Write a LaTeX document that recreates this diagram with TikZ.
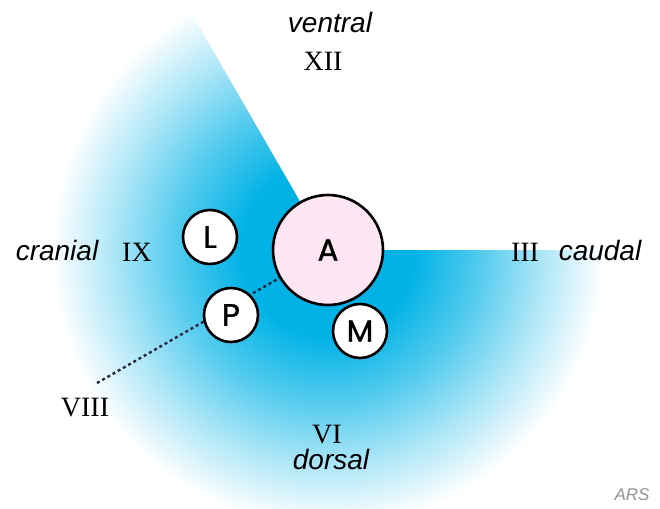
\documentclass[tikz,border=0pt]{standalone}
\usepackage{fontspec}
\setmainfont{Liberation Serif}
\setsansfont{Liberation Sans}
\newfontfamily\circfont{Poppins}[FakeBold=1.2]
\definecolor{cyanA}{RGB}{0,178,230}
\definecolor{pinkA}{RGB}{252,230,242}
\definecolor{dotcol}{RGB}{40,40,60}
\pgfdeclareradialshading{blfade}{\pgfpoint{0bp}{0bp}}{color(0bp)=(cyanA); color(85bp)=(cyanA); color(150bp)=(cyanA!68); color(212bp)=(cyanA!33); color(275bp)=(white); color(400bp)=(white)}
\pgfdeclarelayer{bg}
\pgfdeclarelayer{lines}
\pgfsetlayers{bg,lines,main}
\begin{document}
\begin{tikzpicture}[x=1pt,y=-1pt,
  ring/.style={circle, draw=black, line width=2.6pt, fill=white, inner sep=0pt, minimum size=54pt, font=\circfont\fontsize{31}{31}\selectfont},
  lab/.style={font=\sffamily\itshape\fontsize{28}{28}\selectfont, anchor=base, inner sep=0pt},
  num/.style={font=\rmfamily\fontsize{28}{28}\selectfont, anchor=base, inner sep=0pt},
  dotline/.style={draw=dotcol, line width=2.4pt, dash pattern=on 3pt off 3pt}]
\useasboundingbox (0,0) rectangle (660,508);
\begin{pgfonlayer}{bg}
\begin{scope}
\clip (328,250) -- (178,-10) -- (-20,-20) -- (-20,560) -- (700,560) -- (700,250) -- cycle;
\node[inner sep=0pt] (fade) at (328,250) {\pgfuseshading{blfade}};
\end{scope}
\end{pgfonlayer}
\node[ring, minimum size=110pt, fill=pinkA] (A) at (328,250) {A};
\node[ring] (L) at (210,237) {L};
\node[ring] (P) at (231,315) {P};
\node[ring] (M) at (360,331) {M};
\coordinate (v8) at (97,383);
\begin{pgfonlayer}{lines}
\draw[dotline] (v8) -- (A);
\end{pgfonlayer}
\node[lab] (ventral) at (330,33) {ventral};
\node[num] (XII) at (323,71) {XII};
\node[lab] (cranial) at (57,260) {cranial};
\node[num] (IX) at (137,261) {IX};
\node[num] (III) at (525,261) {III};
\node[lab] (caudal) at (600,260) {caudal};
\node[num] (VIII) at (85,416) {VIII};
\node[num] (VI) at (327,443) {VI};
\node[lab] (dorsal) at (331,469) {dorsal};
\node[font=\sffamily\itshape\fontsize{17}{17}\selectfont, text=gray!85, anchor=base, inner sep=0pt] (ars) at (632,500) {ARS};
\end{tikzpicture}
\end{document}
